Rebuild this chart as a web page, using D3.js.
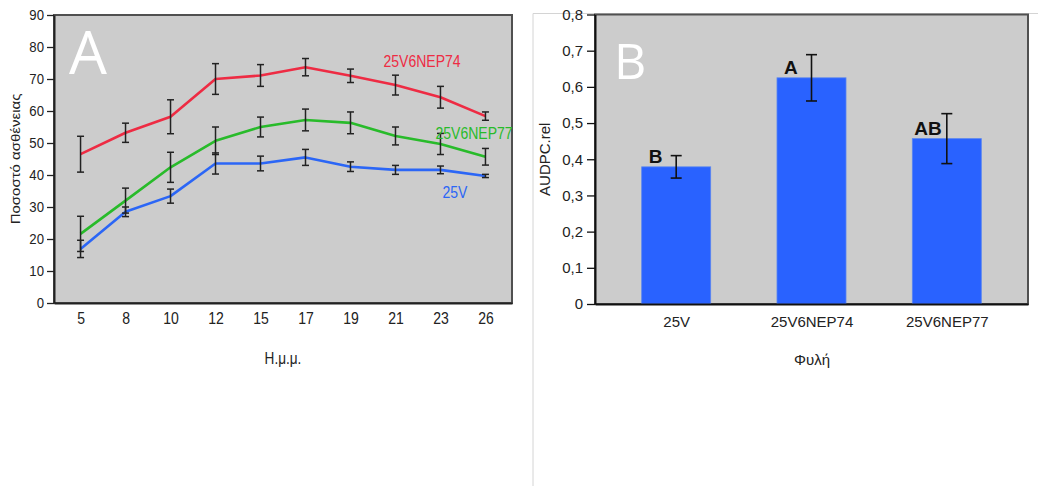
<!DOCTYPE html>
<html>
<head>
<meta charset="utf-8">
<script src="https://cdn.jsdelivr.net/npm/d3@7"></script>
<style>
  html, body { margin: 0; padding: 0; background: #fff; }
  svg { display: block; }
  .sans { font-family: "Liberation Sans", Arial, sans-serif; }
</style>
</head>
<body>
<svg id="chart" width="1038" height="486"></svg>
<script>
// Panel A: disease percentage by days after inoculation
const days = [5, 8, 10, 12, 15, 17, 19, 21, 23, 26];
const pct74 = [46.5, 53.2, 58.2, 70.0, 71.1, 73.7, 71.0, 68.1, 64.3, 58.4];
const err74 = [5.6, 3.0, 5.3, 4.8, 3.4, 2.7, 2.1, 3.1, 3.4, 1.3];
const pct77 = [21.6, 32.0, 42.4, 50.7, 55.0, 57.2, 56.3, 52.2, 49.7, 45.7];
const err77 = [5.5, 3.9, 4.7, 4.3, 3.1, 3.4, 3.4, 2.8, 3.3, 2.6];
const pct25V = [16.9, 28.5, 33.4, 43.6, 43.6, 45.5, 42.6, 41.6, 41.6, 39.7];
const err25V = [2.7, 1.5, 2.2, 3.3, 2.3, 2.5, 1.5, 1.4, 1.2, 0.5];
const pctTicks = [0, 10, 20, 30, 40, 50, 60, 70, 80, 90];

// Panel B: relative AUDPC per line
const strains = ["25V", "25V6NEP74", "25V6NEP77"];
const audpc = [0.379, 0.625, 0.457];
const audpcErr = [0.031, 0.064, 0.069];
const groupLetters = ["B", "A", "AB"];
const audpcTicks = [0, 0.1, 0.2, 0.3, 0.4, 0.5, 0.6, 0.7, 0.8];

const svg = d3.select("#chart");
const plotBg = "#cccccc";
const squeeze = 0.85; // panel A text is set in a condensed width

// condense text horizontally around its own anchor point
function condense(sel, k) {
  sel.each(function () {
    const t = d3.select(this);
    const x = +t.attr("x") || 0, y = +t.attr("y") || 0;
    t.attr("x", 0).attr("y", 0).attr("transform", `translate(${x},${y}) scale(${k},1)`);
  });
}

// ---------- Panel A ----------
const A = { left: 54, right: 512, top: 15, bottom: 303 };
const xA = d3.scalePoint().domain(days).range([A.left, A.right]).padding(0.59);
const yA = d3.scaleLinear().domain([0, 90]).range([A.bottom, A.top]);

const gA = svg.append("g");
gA.append("rect")
  .attr("x", A.left).attr("y", A.top)
  .attr("width", A.right - A.left).attr("height", A.bottom - A.top)
  .attr("fill", plotBg).attr("stroke", "#505050").attr("stroke-width", 2);

const seriesA = [
  { name: "25V6NEP74", values: pct74, errs: err74, color: "#ee2b43", labelDay: 21, labelDx: -12, labelVal: 73.8 },
  { name: "25V6NEP77", values: pct77, errs: err77, color: "#28bb2a", labelDay: 23, labelDx: -5, labelVal: 51.1 },
  { name: "25V", values: pct25V, errs: err25V, color: "#2b66f6", labelDay: 23, labelDx: 2, labelVal: 32.9 }
];

const lineA = d3.line().x(d => xA(d.day)).y(d => yA(d.v));

// draw 25V first so the upper curves sit on top
[...seriesA].reverse().forEach(s => {
  const pts = days.map((day, i) => ({ day, v: s.values[i], e: s.errs[i] }));
  gA.append("path").datum(pts)
    .attr("d", lineA).attr("fill", "none")
    .attr("stroke", s.color).attr("stroke-width", 2.6)
    .attr("stroke-linejoin", "round");
});

seriesA.forEach(s => {
  const pts = days.map((day, i) => ({ day, v: s.values[i], e: s.errs[i] }));
  const eb = gA.append("g").attr("stroke", "#222").attr("stroke-width", 1.5);
  pts.forEach(p => {
    const x = xA(p.day), y1 = yA(p.v + p.e), y2 = yA(p.v - p.e);
    eb.append("line").attr("x1", x).attr("x2", x).attr("y1", y1).attr("y2", y2);
    eb.append("line").attr("x1", x - 3.5).attr("x2", x + 3.5).attr("y1", y1).attr("y2", y1);
    eb.append("line").attr("x1", x - 3.5).attr("x2", x + 3.5).attr("y1", y2).attr("y2", y2);
  });
  gA.append("text").attr("class", "sans")
    .attr("x", xA(s.labelDay) + s.labelDx).attr("y", yA(s.labelVal))
    .attr("font-size", 16.5).attr("fill", s.color).text(s.name)
    .call(condense, squeeze);
});

const yAxisA = gA.append("g")
  .attr("transform", `translate(${A.left},0)`)
  .call(d3.axisLeft(yA).tickValues(pctTicks).tickSize(7).tickSizeOuter(0).tickPadding(3));
const xAxisA = gA.append("g")
  .attr("transform", `translate(0,${A.bottom})`)
  .call(d3.axisBottom(xA).tickSize(0).tickPadding(9));

[[yAxisA, 15.5], [xAxisA, 16.5]].forEach(([ax, fs]) => {
  ax.attr("font-family", null).attr("font-size", null).attr("class", "sans");
  ax.selectAll("text").attr("font-size", fs).attr("fill", "#222").call(condense, squeeze);
  ax.selectAll(".tick line").attr("stroke", "#222").attr("stroke-width", 1.3);
  ax.select(".domain").attr("stroke", "#222").attr("stroke-width", 2);
});

gA.append("text").attr("class", "sans")
  .attr("transform", `translate(20,${(A.top + A.bottom) / 2}) rotate(-90) scale(1,${squeeze})`)
  .attr("text-anchor", "middle").attr("font-size", 15).attr("fill", "#222")
  .text("Ποσοστό ασθένειας");

gA.append("text").attr("class", "sans")
  .attr("x", 283).attr("y", 364).attr("text-anchor", "middle")
  .attr("font-size", 16).attr("fill", "#222").text("Η.μ.μ.")
  .call(condense, squeeze);

gA.append("text")
  .attr("x", 69).attr("y", 74)
  .attr("font-family", "'Open Sans', Lato, sans-serif")
  .attr("font-size", 60).attr("fill", "#fff").text("A");

// ---------- Panel B ----------
// light frame around the panel
svg.append("path")
  .attr("d", "M533,486 V13.5 H1038")
  .attr("fill", "none").attr("stroke", "#d4d4d4").attr("stroke-width", 1);

const B = { left: 595, right: 1028, top: 14.5, bottom: 304 };
const xB = d3.scalePoint().domain(strains).range([B.left, B.right]).padding(0.6);
const yB = d3.scaleLinear().domain([0, 0.8]).range([B.bottom, B.top]);
const barW = 69;
const commaFmt = d3.formatLocale({ decimal: ",", thousands: ".", grouping: [3], currency: ["", "€"] }).format(".1f");

const gB = svg.append("g");
gB.append("rect")
  .attr("x", B.left).attr("y", B.top)
  .attr("width", B.right - B.left).attr("height", B.bottom - B.top)
  .attr("fill", plotBg).attr("stroke", "#505050").attr("stroke-width", 2);

const barData = strains.map((s, i) => ({ s, v: audpc[i], e: audpcErr[i], g: groupLetters[i] }));

gB.selectAll("rect.bar").data(barData).join("rect")
  .attr("class", "bar")
  .attr("x", d => xB(d.s) - barW / 2).attr("width", barW)
  .attr("y", d => yB(d.v)).attr("height", d => yB(0) - yB(d.v))
  .attr("fill", "#2962ff").attr("stroke", "#5a86f0").attr("stroke-width", 0.8);

const ebB = gB.append("g").attr("stroke", "#111").attr("stroke-width", 1.6);
barData.forEach(d => {
  const x = xB(d.s), y1 = yB(d.v + d.e), y2 = yB(d.v - d.e);
  ebB.append("line").attr("x1", x).attr("x2", x).attr("y1", y1).attr("y2", y2);
  ebB.append("line").attr("x1", x - 5.5).attr("x2", x + 5.5).attr("y1", y1).attr("y2", y1);
  ebB.append("line").attr("x1", x - 5.5).attr("x2", x + 5.5).attr("y1", y2).attr("y2", y2);
});

// significance letters sit just above each bar, left of its error bar
const letterNudge = { "B": 7, "A": 7, "AB": 2 };
gB.selectAll("text.grp").data(barData).join("text")
  .attr("class", "grp sans")
  .attr("x", d => xB(d.s) - barW / 2 + letterNudge[d.g])
  .attr("y", d => yB(d.v) - 4)
  .attr("font-size", 19).attr("font-weight", "bold").attr("fill", "#111")
  .text(d => d.g);

const yAxisB = gB.append("g")
  .attr("transform", `translate(${B.left},0)`)
  .call(d3.axisLeft(yB).tickValues(audpcTicks).tickSize(8).tickSizeOuter(0).tickPadding(4)
    .tickFormat(d => d === 0 ? "0" : commaFmt(d)));
const xAxisB = gB.append("g")
  .attr("transform", `translate(0,${B.bottom})`)
  .call(d3.axisBottom(xB).tickSize(0).tickPadding(12));

[yAxisB, xAxisB].forEach(ax => {
  ax.attr("font-family", null).attr("font-size", null).attr("class", "sans");
  ax.selectAll("text").attr("font-size", 15).attr("fill", "#222");
  ax.selectAll(".tick line").attr("stroke", "#111").attr("stroke-width", 1.3);
  ax.select(".domain").attr("stroke", "#111").attr("stroke-width", 2);
});

gB.append("text").attr("class", "sans")
  .attr("transform", `translate(550,${(B.top + B.bottom) / 2}) rotate(-90)`)
  .attr("text-anchor", "middle").attr("font-size", 15).attr("fill", "#222")
  .text("AUDPC.rel");

gB.append("text").attr("class", "sans")
  .attr("x", 812).attr("y", 365).attr("text-anchor", "middle")
  .attr("font-size", 15).attr("fill", "#222").text("Φυλή");

gB.append("text")
  .attr("x", 614).attr("y", 79)
  .attr("font-family", "'Open Sans', Lato, sans-serif")
  .attr("font-size", 50).attr("fill", "#fff").text("B");
</script>
</body>
</html>
